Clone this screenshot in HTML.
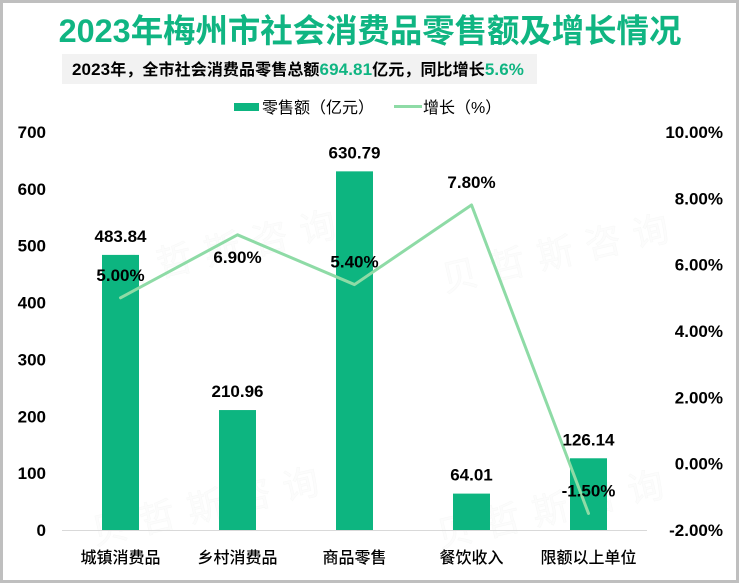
<!DOCTYPE html>
<html lang="zh">
<head>
<meta charset="utf-8">
<title>2023年梅州市社会消费品零售额及增长情况</title>
<style>
html,body{margin:0;padding:0;background:#fff}
#frame{position:relative;width:739px;height:583px;box-sizing:border-box;border:3px solid #bfbfbf;background:#fff;overflow:hidden}
#chart{position:absolute;left:-3px;top:-3px}
text{font-family:"Liberation Sans","Noto Sans CJK SC",sans-serif}
</style>
</head>
<body>
<div id="frame">
<svg id="chart" width="739" height="583" viewBox="0 0 739 583" xmlns="http://www.w3.org/2000/svg">
  <g id="watermarks" fill="#fcfcfc" stroke="#f7f8f7" stroke-width="0.5" font-size="36" letter-spacing="13">
    <text x="112" y="288" transform="rotate(-13 112 288)">贝哲斯咨询</text>
    <text x="445" y="292" transform="rotate(-13 445 292)">贝哲斯咨询</text>
    <text x="95" y="545" transform="rotate(-13 95 545)">贝哲斯咨询</text>
    <text x="440" y="548" transform="rotate(-13 440 548)">贝哲斯咨询</text>
  </g>
  <text x="370" y="42" text-anchor="middle" font-size="32.4" font-weight="700" fill="#10b582">2023年梅州市社会消费品零售额及增长情况</text>
  <rect x="62" y="54" width="475" height="30" fill="#f2f2f2"></rect>
  <text x="72" y="75" font-size="16" font-weight="700" fill="#000" letter-spacing="0.1"><tspan font-size="17">2023</tspan>年，全市社会消费品零售总额<tspan fill="#10b582" font-size="17">694.81</tspan>亿元，同比增长<tspan fill="#10b582" font-size="17">5.6%</tspan></text>
  <g>
    <rect x="234" y="103" width="25" height="8" fill="#0db580"></rect>
    <text x="262" y="113" font-size="16" fill="#000">零售额（亿元）</text>
    <line x1="394" y1="106.5" x2="422" y2="106.5" stroke="#8edba6" stroke-width="3"></line>
    <text x="423" y="113" font-size="16" fill="#000">增长（%）</text>
  </g>
  <g id="plot"></g>
</svg>
</div>
<script>
const categories = ['城镇消费品', '乡村消费品', '商品零售', '餐饮收入', '限额以上单位'];
const salesValues = [483.84, 210.96, 630.79, 64.01, 126.14];
const growthValues = [5.0, 6.9, 5.4, 7.8, -1.5];
const growthLabelSide = ['above', 'below', 'above', 'above', 'above'];
const leftTicks = [0, 100, 200, 300, 400, 500, 600, 700];
const rightTicks = [-2, 0, 2, 4, 6, 8, 10];

const NS = 'http://www.w3.org/2000/svg';
const plot = document.getElementById('plot');
const plotLeft = 62, plotRight = 647, plotTop = 132, plotBottom = 530, barWidth = 37;
const ySales = v => plotBottom - (v - 0) / (700 - 0) * (plotBottom - plotTop);
const yGrowth = v => plotBottom - (v + 2) / (10 + 2) * (plotBottom - plotTop);
const xCenter = i => plotLeft + (plotRight - plotLeft) * (i + 0.5) / categories.length;

function make(tag, attrs, text) {
  const el = document.createElementNS(NS, tag);
  for (const k in attrs) el.setAttribute(k, attrs[k]);
  if (text !== undefined) el.textContent = text;
  return el;
}

leftTicks.forEach(t => {
  const el = make('text', {x: 46, y: ySales(t) + 6, 'text-anchor': 'end', 'font-size': 17, 'font-weight': 700, fill: '#000'}, String(t));
  
  
  plot.appendChild(el);
});

rightTicks.forEach(t => {
  const el = make('text', {x: 723, y: yGrowth(t) + 6, 'text-anchor': 'end', 'font-size': 17, 'font-weight': 700, fill: '#000'}, t.toFixed(2) + '%');
  
  
  plot.appendChild(el);
});

salesValues.forEach((v, i) => {
  const bar = make('rect', {x: xCenter(i) - barWidth / 2, y: ySales(v), width: barWidth, height: plotBottom - ySales(v), fill: '#0db580'});
  
  
  plot.appendChild(bar);
});

const axisLine = make('line', {x1: plotLeft, y1: plotBottom + 0.5, x2: plotRight, y2: plotBottom + 0.5, stroke: '#d9d9d9', 'stroke-width': 1});


plot.appendChild(axisLine);

const growthLine = make('polyline', {
  points: growthValues.map((v, i) => xCenter(i) + ',' + yGrowth(v)).join(' '),
  fill: 'none', stroke: '#8edba6', 'stroke-width': 3, 'stroke-linecap': 'round', 'stroke-linejoin': 'round'
});


plot.appendChild(growthLine);

categories.forEach((c, i) => {
  const el = make('text', {x: xCenter(i), y: 563, 'text-anchor': 'middle', 'font-size': 16, 'font-weight': 500, fill: '#000'}, c);
  
  
  plot.appendChild(el);
});

salesValues.forEach((v, i) => {
  const el = make('text', {x: xCenter(i), y: ySales(v) - 13, 'text-anchor': 'middle', 'font-size': 17, 'font-weight': 700, fill: '#000'}, v.toFixed(2));
  
  
  plot.appendChild(el);
});

growthValues.forEach((v, i) => {
  const dy = growthLabelSide[i] === 'below' ? 28 : -17;
  const el = make('text', {x: xCenter(i), y: yGrowth(v) + dy, 'text-anchor': 'middle', 'font-size': 17, 'font-weight': 700, fill: '#000'}, v.toFixed(2) + '%');
  
  
  plot.appendChild(el);
});
</script>
</body>
</html>
